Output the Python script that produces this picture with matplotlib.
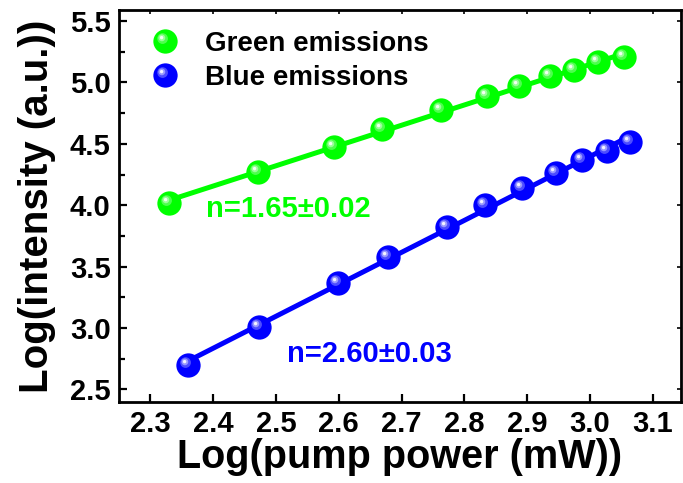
import numpy as np
import matplotlib
matplotlib.use("Agg")
import matplotlib.pyplot as plt
from matplotlib.path import Path
from matplotlib.legend_handler import HandlerTuple
from matplotlib.ticker import MultipleLocator

# ---------------- data ----------------
green_x = [2.329, 2.472, 2.592, 2.669, 2.763, 2.836, 2.887, 2.937, 2.975, 3.013, 3.055]
green_y = [4.019, 4.269, 4.475, 4.619, 4.773, 4.891, 4.969, 5.050, 5.099, 5.164, 5.205]
blue_x = [2.360, 2.473, 2.598, 2.679, 2.772, 2.833, 2.892, 2.946, 2.988, 3.027, 3.064]
blue_y = [2.699, 3.010, 3.363, 3.580, 3.824, 4.000, 4.140, 4.265, 4.372, 4.442, 4.511]
series_labels = ["Green emissions", "Blue emissions"]
slope_labels = ["n=1.65\u00b10.02", "n=2.60\u00b10.03"]
x_ticks = [2.3, 2.4, 2.5, 2.6, 2.7, 2.8, 2.9, 3.0, 3.1]
y_ticks = [2.5, 3.0, 3.5, 4.0, 4.5, 5.0, 5.5]
x_label = "Log(pump power (mW))"
y_label = "Log(intensity (a.u.))"

GREEN = "#00ff00"
BLUE = "#0000ff"
FONT = ["Liberation Sans", "DejaVu Sans"]
plt.rcParams["font.family"] = FONT
plt.rcParams["font.weight"] = "bold"

fig = plt.figure(figsize=(6.83, 4.83), dpi=100)
ax = fig.add_axes([119 / 683, 1 - 401.7 / 483, (681 - 119) / 683, (401.7 - 10) / 483])


def offset_circle(cx, cy, r):
    """Circle path offset inside the unit marker box; a stray MOVETO keeps scale."""
    c = Path.circle((cx, cy), r)
    verts = np.vstack([[[0.5, 0.5]], c.vertices])
    codes = np.concatenate([[Path.MOVETO], c.codes])
    return Path(verts, codes)


def mix(c, w):
    rgb = np.array(matplotlib.colors.to_rgb(c))
    return tuple(rgb + (1 - rgb) * w)


def sphere(x, y, color, ms=17.5):
    arts = []
    (main,) = ax.plot(x, y, ls="none", marker="o", ms=ms, mfc=color, mec=color,
                      mew=0, zorder=4)
    arts.append(main)
    layers = [((-0.12, 0.12, 0.22), 0.30), ((-0.15, 0.15, 0.14), 0.60),
              ((-0.16, 0.16, 0.07), 0.95)]
    for (cx, cy, r), w in layers:
        (h,) = ax.plot(x, y, ls="none", marker=offset_circle(cx, cy, r), ms=ms,
                       mfc=mix(color, w), mec="none", mew=0, zorder=5)
        arts.append(h)
    return tuple(arts)


# fit lines
for xs, ys, col in [(green_x, green_y, GREEN), (blue_x, blue_y, BLUE)]:
    xs = np.asarray(xs)
    p = np.polyfit(xs, np.asarray(ys), 1)
    xx = np.array([xs.min(), xs.max()])
    ax.plot(xx, np.polyval(p, xx), color=col, lw=3.6, zorder=3, solid_capstyle="butt")

hg = sphere(green_x, green_y, GREEN)
hb = sphere(blue_x, blue_y, BLUE)

ax.text(2.389, 3.903, slope_labels[0], color=GREEN, fontsize=21, fontweight="bold",
        va="baseline", ha="left")
ax.text(2.518, 2.723, slope_labels[1], color=BLUE, fontsize=21, fontweight="bold",
        va="baseline", ha="left")

leg = ax.legend([hg, hb], series_labels,
                handler_map={tuple: HandlerTuple(ndivide=1, pad=0)},
                loc="upper left", bbox_to_anchor=(0.057, 0.947), frameon=False,
                prop={"family": FONT, "weight": "bold", "size": 20},
                handlelength=1.0, handletextpad=0.94, labelspacing=0.28,
                borderpad=0, borderaxespad=0)

ax.set_xlim(2.25, 3.145)
ax.set_ylim(2.4, 5.59)
ax.set_xticks(x_ticks)
ax.set_xticklabels([f"{v:.1f}" for v in x_ticks])
ax.set_yticks(y_ticks)
ax.set_yticklabels([f"{v:.1f}" for v in y_ticks])
ax.yaxis.set_minor_locator(MultipleLocator(0.25))

for s in ax.spines.values():
    s.set_linewidth(2.0)
ax.tick_params(axis="both", which="major", direction="in", length=6, width=1.6,
               labelsize=21, pad=6)
ax.tick_params(axis="y", which="minor", direction="in", length=4, width=1.6)
ax.tick_params(axis="x", which="minor", bottom=False)
for lab in ax.get_xticklabels() + ax.get_yticklabels():
    lab.set_fontweight("bold")

sx = ax.secondary_xaxis("top")
sx.set_xticks(x_ticks)
sx.tick_params(direction="in", length=3, width=1.2, labeltop=False)
sy = ax.secondary_yaxis("right")
sy.set_yticks(y_ticks)
sy.tick_params(direction="in", length=3, width=1.2, labelright=False)

ax.set_xlabel(x_label, fontsize=28.5, fontweight="bold", labelpad=0)
ax.set_ylabel(y_label, fontsize=29, fontweight="bold", labelpad=10)

fig.savefig("out.png", dpi=100)
